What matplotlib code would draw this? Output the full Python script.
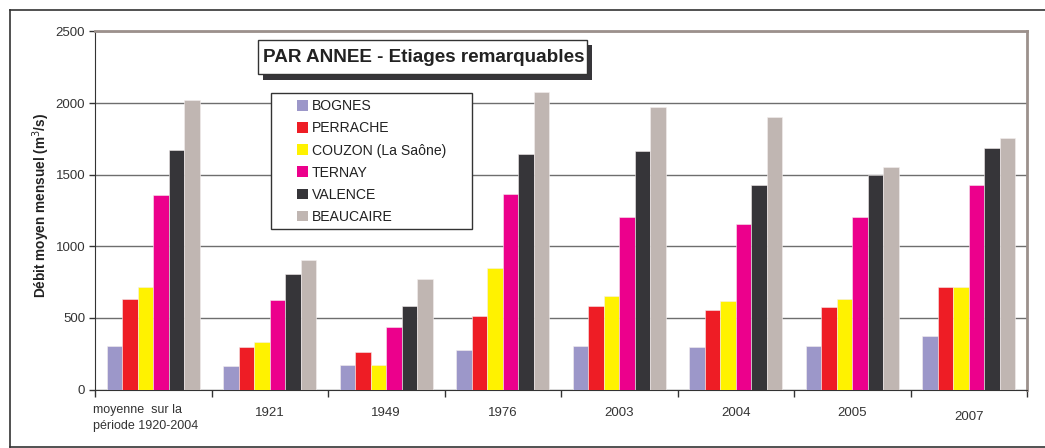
import matplotlib.pyplot as plt
import matplotlib.patches as mpatches
import numpy as np

plt.rcParams['font.family'] = ['Liberation Sans', 'DejaVu Sans']

categories = ["moyenne  sur la\npériode 1920-2004", "1921", "1949", "1976",
              "2003", "2004", "2005", "2007"]
stations = ["BOGNES", "PERRACHE", "COUZON (La Saône)", "TERNAY", "VALENCE", "BEAUCAIRE"]
colors = ["#9c97c9", "#ee1d25", "#fff200", "#ec008c", "#363539", "#c0b6b2"]

bognes = [305, 165, 170, 275, 305, 295, 305, 375]
perrache = [635, 295, 265, 515, 585, 555, 575, 715]
couzon = [715, 335, 170, 850, 655, 615, 630, 715]
ternay = [1355, 625, 435, 1365, 1205, 1155, 1205, 1425]
valence = [1675, 805, 585, 1645, 1665, 1425, 1495, 1685]
beaucaire = [2025, 905, 775, 2075, 1975, 1905, 1555, 1755]
series = [bognes, perrache, couzon, ternay, valence, beaucaire]

W, H = 1045, 448
fig = plt.figure(figsize=(W / 100, H / 100), dpi=100)


def fx(px):
    return px / W


def fy(py):
    return 1 - py / H


# outer frame (right side runs off the picture)
for xs, ys in [([9.5, 9.5], [10, 446.5]), ([9.5, W], [10, 10]), ([9.5, W], [446.5, 446.5])]:
    fig.add_artist(plt.Line2D([fx(v) for v in xs], [fy(v) for v in ys], color="#333333", lw=1.2))

ax = fig.add_axes([fx(95), fy(389.5), fx(1027 - 95), (389.5 - 31.5) / H])

x = np.arange(len(categories))
bw = 0.8 / 6
for i, (vals, name, col) in enumerate(zip(series, stations, colors)):
    ax.bar(x - 0.4 + bw * (i + 0.5), vals, width=bw, color=col, label=name,
           edgecolor="#f4eeee", linewidth=0.4, zorder=3)

ax.set_xlim(-0.5, len(categories) - 0.5)
ax.set_ylim(0, 2500)
ax.set_yticks(range(0, 2501, 500))
ax.tick_params(axis="y", labelsize=9.5, colors="#333333", length=4, width=1, pad=3)
ax.yaxis.grid(True, color="#6e6e6e", lw=1, zorder=0)
ax.set_axisbelow(True)

ax.set_xticks(np.arange(len(categories) + 1) - 0.5)
ax.set_xticklabels([])
ax.tick_params(axis="x", length=5, width=1, colors="#333333")
for i, lab in enumerate(categories):
    if i == 0:
        ax.text(-0.52, -0.04, lab, transform=ax.get_xaxis_transform(), ha="left", va="top",
                fontsize=9, color="#333333", linespacing=1.5)
    else:
        dy = -0.06 if lab == "2007" else -0.05
        ax.text(i, dy, lab, transform=ax.get_xaxis_transform(), ha="center", va="top",
                fontsize=9.5, color="#333333")

ax.spines["left"].set_color("#333333")
ax.spines["bottom"].set_color("#333333")
for s in ["top", "right"]:
    ax.spines[s].set_color("#9c918c")
    ax.spines[s].set_linewidth(2)

ax.set_ylabel("Débit moyen mensuel (m$^3$/s)", fontsize=9.8, fontweight="bold", color="#222222")
ax.yaxis.set_label_coords((52 - 95) / 932, 0.513)

# title box with shadow
fig.add_artist(mpatches.Rectangle((fx(263), fy(80)), fx(592 - 263), (80 - 45) / H,
                                  transform=fig.transFigure, fc="#363539", ec="none", zorder=5))
fig.add_artist(mpatches.Rectangle((fx(258), fy(74)), fx(587 - 258), (74 - 40) / H,
                                  transform=fig.transFigure, fc="white", ec="#333333", lw=1, zorder=6))
fig.text(fx(423.5), fy(57.5), "PAR ANNEE - Etiages remarquables", ha="center", va="center",
         fontsize=13.6, fontweight="bold", color="#222222", zorder=7)

# legend box
fig.add_artist(mpatches.Rectangle((fx(271), fy(229)), fx(472 - 271), (229 - 93.5) / H,
                                  transform=fig.transFigure, fc="white", ec="#333333", lw=1, zorder=6))
leg = fig.legend(*ax.get_legend_handles_labels(), loc="upper left",
                 bbox_to_anchor=(fx(294), fy(96.5)), frameon=False, fontsize=10.1,
                 handlelength=0.8, handleheight=0.8, handletextpad=0.25, labelspacing=0.58,
                 borderpad=0.2, borderaxespad=0, labelcolor="#222222")
leg.set_zorder(7)
for h in leg.legend_handles:
    h.set_linewidth(0)

fig.savefig("out.png", dpi=100)
